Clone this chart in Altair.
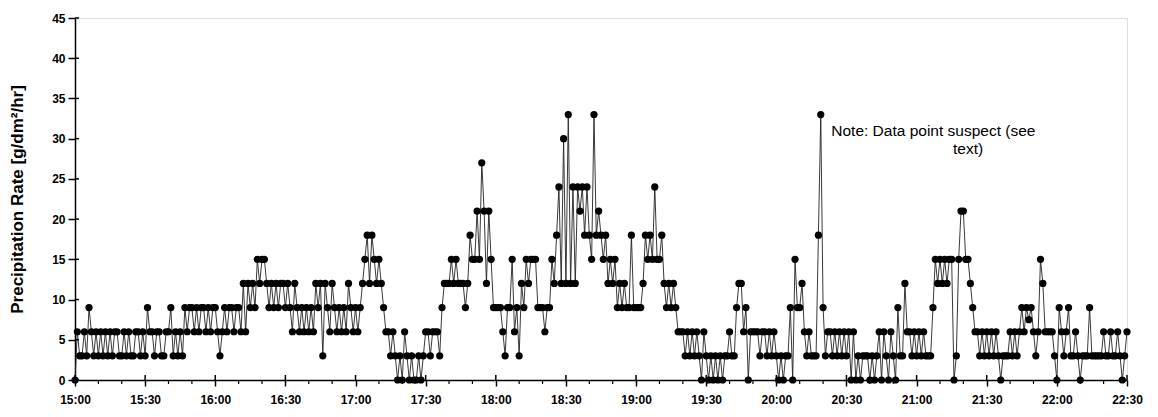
import altair as alt
import pandas as pd

# Precipitation rate [g/dm^2/hr], one reading per minute, grouped by half hour
rate_1500 = [0,6,3,3,6,3,9,6,3,6, 3,6,3,6,3,6,3,6,6,3, 3,6,3,6,3,3,6,6,3,6]
rate_1530 = [3,9,6,6,3,6,6,3,3,6, 6,9,3,6,3,6,3,9,6,9, 9,6,9,6,9,9,6,9,6,9]
rate_1600 = [9,6,3,6,9,6,9,9,6,9, 9,6,12,6,12,9,12,9,15,12, 15,15,12,9,12,9,12,9,12,12]
rate_1630 = [9,12,9,6,12,9,6,9,6,9, 6,9,6,12,9,12,3,12,9,6, 12,9,6,9,6,9,6,12,9,6]
rate_1700 = [9,6,9,12,15,18,12,18,15,12, 15,12,9,6,6,3,6,3,0,3, 0,6,3,0,3,0,0,3,0,3]
rate_1730 = [6,6,3,6,6,6,3,9,12,12, 12,15,12,15,12,12,12,9,12,18, 15,15,21,15,27,21,12,21,15,9]
rate_1800 = [9,9,9,6,3,9,9,15,6,9, 3,12,9,15,12,15,15,15,9,9, 9,6,9,9,15,12,18,24,12,30]
rate_1830 = [12,33,12,24,12,24,21,24,18,24, 18,15,33,18,21,18,15,18,12,15, 12,15,9,12,9,12,9,9,18,9]
rate_1900 = [9,9,9,12,18,15,18,15,24,15, 15,18,12,9,12,9,12,9,6,6, 6,3,6,3,6,3,6,3,0,6]
rate_1930 = [3,0,3,0,3,0,3,0,3,3, 6,3,3,9,12,12,6,9,0,6, 6,6,6,3,6,6,3,6,3,6]
rate_2000 = [3,0,3,0,3,3,9,0,15,9, 9,12,6,3,6,3,3,3,18,33, 9,3,6,6,3,6,3,6,3,6]
rate_2030 = [3,6,0,6,0,3,0,3,3,3, 0,3,0,3,6,0,6,3,0,6, 3,0,9,3,3,12,6,6,3,6]
rate_2100 = [3,6,3,6,3,3,3,9,15,12, 15,12,15,12,15,15,0,3,15,21, 21,15,15,12,9,6,6,3,6,3]
rate_2130 = [6,3,6,3,6,3,0,3,3,3, 6,3,6,3,6,9,6,9,7.5,9, 6,3,6,15,12,6,6,6,6,3]
rate_2200 = [0,9,6,3,6,9,3,3,6,3, 0,3,3,3,9,3,3,3,3,3, 6,3,3,6,3,3,6,3,0,3, 6]

tick_labels = ["15:00", "15:30", "16:00", "16:30", "17:00", "17:30", "18:00", "18:30",
               "19:00", "19:30", "20:00", "20:30", "21:00", "21:30", "22:00", "22:30"]
y_ticks = [0, 5, 10, 15, 20, 25, 30, 35, 40, 45]
note_lines = ["Note: Data point suspect (see", "text)"]

halves = [rate_1500, rate_1530, rate_1600, rate_1630, rate_1700, rate_1730, rate_1800,
          rate_1830, rate_1900, rate_1930, rate_2000, rate_2030, rate_2100, rate_2130,
          rate_2200]
values = [v for h in halves for v in h]
df = pd.DataFrame({"minute": list(range(len(values))), "rate": values})

major = [i * 30 for i in range(len(tick_labels))]
minor = [m for m in range(0, major[-1] + 1, 10) if m % 30 != 0]

PLOT_W, PLOT_H = 1052, 362
FONT = "Liberation Sans"

label_expr = "[" + ",".join("'%s'" % t for t in tick_labels) + "][round(datum.value/30)]"

xscale = alt.Scale(domain=[0, major[-1]], nice=False, zero=False)
yscale = alt.Scale(domain=[0, 45], nice=False)

x_enc = alt.X("minute:Q", scale=xscale,
              axis=alt.Axis(values=major, labelExpr=label_expr, title=None, grid=False,
                            tickSize=6, tickWidth=1.5, tickColor="black",
                            domainColor="black", domainWidth=1.5,
                            labelFont=FONT, labelFontSize=12, labelFontWeight="bold",
                            labelColor="black", labelPadding=8, labelFlush=False))
y_enc = alt.Y("rate:Q", scale=yscale,
              axis=alt.Axis(values=y_ticks, title="Precipitation Rate [g/dm²/hr]", grid=False,
                            tickSize=7, tickWidth=1.5, tickColor="black",
                            domainColor="black", domainWidth=1.5,
                            labelFont=FONT, labelFontSize=12, labelFontWeight="bold",
                            labelColor="black", labelPadding=3,
                            titleFont=FONT, titleFontSize=17, titleFontWeight="bold",
                            titleColor="black", titlePadding=25))

base = alt.Chart(df)
line = base.mark_line(color="#222222", strokeWidth=0.9).encode(x=x_enc, y=y_enc)
pts = base.mark_circle(color="black", opacity=1, size=52).encode(x="minute:Q", y="rate:Q")

# inner halves of the major ticks (ticks cross the axis lines)
xin = alt.Chart(pd.DataFrame({"minute": major})).mark_rule(color="black", strokeWidth=1.5).encode(
    x="minute:Q", y=alt.value(PLOT_H), y2=alt.value(PLOT_H - 5))
xminor = alt.Chart(pd.DataFrame({"minute": minor})).mark_rule(color="black", strokeWidth=1.2).encode(
    x="minute:Q", y=alt.value(PLOT_H), y2=alt.value(PLOT_H + 4))
yin = alt.Chart(pd.DataFrame({"rate": y_ticks})).mark_rule(color="black", strokeWidth=1.5).encode(
    y="rate:Q", x=alt.value(0), x2=alt.value(4))

note1 = alt.Chart(pd.DataFrame({"minute": [323.5], "rate": [31.0], "t": [note_lines[0]]})).mark_text(
    align="left", baseline="middle", font=FONT, fontSize=15.5, color="black").encode(
    x="minute:Q", y="rate:Q", text="t:N")
note2 = alt.Chart(pd.DataFrame({"minute": [382], "rate": [28.7], "t": [note_lines[1]]})).mark_text(
    align="center", baseline="middle", font=FONT, fontSize=15.5, color="black").encode(
    x="minute:Q", y="rate:Q", text="t:N")

chart = alt.layer(line, pts, xin, xminor, yin, note1, note2).properties(
    width=PLOT_W, height=PLOT_H,
    autosize=alt.AutoSizeParams(type="none"),
    padding={"left": 67, "top": 10, "right": 23, "bottom": 29},
).configure_view(stroke=None).configure(background="white")

chart.save("out.html", embed_options={"renderer": "svg", "actions": False})
